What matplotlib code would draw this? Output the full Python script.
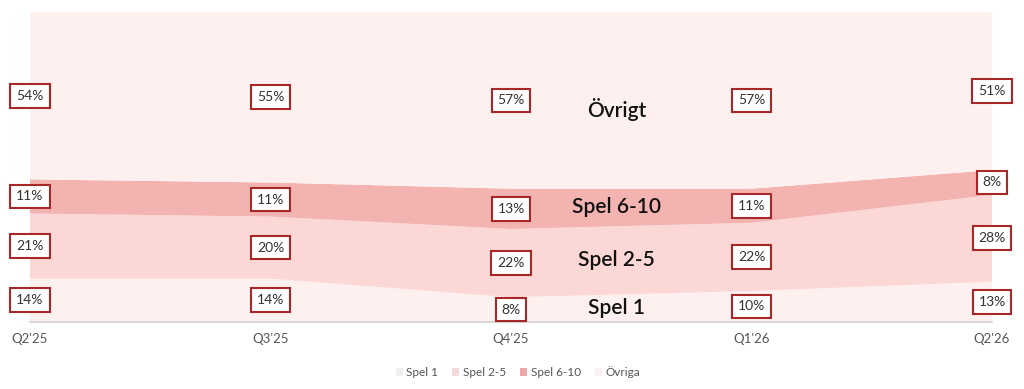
import numpy as np
import matplotlib.pyplot as plt

plt.rcParams['font.family'] = ['Lato', 'DejaVu Sans']

kvartal = ["Q2'25", "Q3'25", "Q4'25", "Q1'26", "Q2'26"]
spel_1 = [14, 14, 8, 10, 13]
spel_2_5 = [21, 20, 22, 22, 28]
spel_6_10 = [11, 11, 13, 11, 8]
ovrigt = [54, 55, 57, 57, 51]

serier = [spel_1, spel_2_5, spel_6_10, ovrigt]
namn_legend = ['Spel 1', 'Spel 2-5', 'Spel 6-10', 'Övriga']
namn_i_yta = ['Spel 1', 'Spel 2-5', 'Spel 6-10', 'Övrigt']
farger = ['#fef0ef', '#fbd7d5', '#f3b3b1', '#fef0ef']
legend_farger = ['#f1eeee', '#f2dada', '#eea7a7', '#f9f1f1']

x = np.arange(len(kvartal))

fig = plt.figure(figsize=(10.24, 3.89), dpi=100)
ax = fig.add_axes([30 / 1024, 1 - 322 / 389, 962 / 1024, 310 / 389])

ax.stackplot(x, *serier, colors=farger, linewidth=0)

# procentetiketter mitt i varje band
botten = np.zeros(len(x))
for s in serier:
    s = np.array(s, dtype=float)
    mitt = botten + s / 2
    for xi, yi, v in zip(x, mitt, s):
        ax.text(xi, yi, f'{int(v)}%', ha='center', va='center', fontsize=10,
                color='#333333', clip_on=False,
                bbox=dict(boxstyle='square,pad=0.42', fc='white', ec='#a8282a', lw=1.5))
    botten = botten + s

# namn i ytorna
xl = 2.44
botten = np.zeros(len(x))
for s, n in zip(serier, namn_i_yta):
    s = np.array(s, dtype=float)
    lo = np.interp(xl, x, botten)
    hi = np.interp(xl, x, botten + s)
    ym = (lo + hi) / 2
    if n == 'Övrigt':
        ym -= 3
    ax.text(xl, ym, n, ha='center', va='center', fontsize=15,
            fontweight='semibold', color='#111111')
    botten = botten + s

ax.set_xlim(0, len(x) - 1)
ax.set_ylim(0, 100)
ax.set_yticks([])
ax.set_xticks(x)
ax.set_xticklabels(kvartal, fontsize=9.5, color='#555555')
ax.tick_params(axis='x', length=0, pad=8)
for sida in ['top', 'right', 'left']:
    ax.spines[sida].set_visible(False)
ax.spines['bottom'].set_color('#d0d0d0')
ax.spines['bottom'].set_linewidth(1.2)

handtag = [plt.Rectangle((0, 0), 1, 1, fc=c, ec='none') for c in legend_farger]
fig.legend(handtag, namn_legend, loc='center', bbox_to_anchor=(518 / 1024, 1 - 372 / 389),
           ncol=4, frameon=False, fontsize=8.5, handlelength=0.6, handleheight=0.6,
           handletextpad=0.3, columnspacing=1.2, labelcolor='#555555')

fig.savefig('out.png', dpi=100, facecolor='white')
